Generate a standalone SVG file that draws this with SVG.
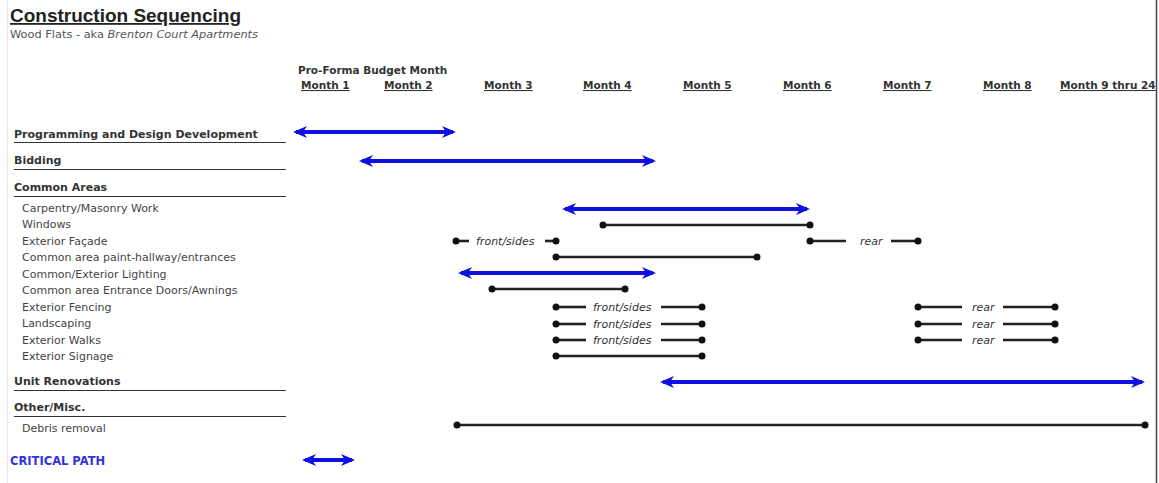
<svg xmlns="http://www.w3.org/2000/svg" width="1159" height="483" viewBox="0 0 1159 483">
<defs>
<marker id="ah" viewBox="0 0 14 12" refX="11" refY="6" markerWidth="14" markerHeight="12" markerUnits="userSpaceOnUse" orient="auto-start-reverse">
<path d="M0,0 L14,6 L0,12 L4,6 z" fill="#1010e0"/>
</marker>
<marker id="dot" viewBox="0 0 8 8" refX="4" refY="4" markerWidth="8" markerHeight="8" markerUnits="userSpaceOnUse">
<circle cx="4" cy="4" r="3.5" fill="#111"/>
</marker>
<style>
.t{font-family:"DejaVu Sans","Liberation Sans",sans-serif;fill:#333;}
.title{font-family:"Liberation Sans",Arial,sans-serif;font-size:18px;font-weight:bold;fill:#222;text-decoration:underline;}
.sub{font-size:10px;fill:#555;}
.hd{font-size:10.5px;font-weight:bold;fill:#333;}
.mo{font-size:10.5px;fill:#333;text-decoration:underline;font-weight:bold;}
.sec{font-size:11px;font-weight:bold;fill:#333;}
.item{font-size:11px;fill:#444;}
.lbl{font-size:11px;font-style:italic;fill:#333;}
.cp{font-size:11.5px;font-weight:bold;fill:#3333dd;}
.rule{stroke:#333;stroke-width:1.2;}
.blue{stroke:#1010e0;stroke-width:4;fill:none;marker-start:url(#ah);marker-end:url(#ah);}
.bk{stroke:#222;stroke-width:2.6;fill:none;}
.d2{marker-start:url(#dot);marker-end:url(#dot);}
.ds{marker-start:url(#dot);}
.de{marker-end:url(#dot);}
</style>
</defs>
<rect width="1159" height="483" fill="#fff"/>
<line x1="1156.5" y1="0" x2="1156.5" y2="483" stroke="#444" stroke-width="1.5"/>
<line x1="7.5" y1="0" x2="7.5" y2="483" stroke="#e6e6e6" stroke-width="1"/>

<g id="header">
<text class="title" x="10" y="22" textLength="231" lengthAdjust="spacingAndGlyphs">Construction Sequencing</text>
<text class="t sub" x="10" y="38" textLength="248" lengthAdjust="spacingAndGlyphs">Wood Flats - aka <tspan font-style="italic">Brenton Court Apartments</tspan></text>
<text class="t hd" x="298" y="74">Pro-Forma Budget Month</text>
<text class="t mo" x="301" y="89">Month 1</text>
<text class="t mo" x="384" y="89">Month 2</text>
<text class="t mo" x="484" y="89">Month 3</text>
<text class="t mo" x="583" y="89">Month 4</text>
<text class="t mo" x="683" y="89">Month 5</text>
<text class="t mo" x="783" y="89">Month 6</text>
<text class="t mo" x="883" y="89">Month 7</text>
<text class="t mo" x="983" y="89">Month 8</text>
<text class="t mo" x="1060" y="89">Month 9 thru 24</text>
</g>

<g id="labels">
<text class="t sec" x="14" y="138">Programming and Design Development</text>
<line class="rule" x1="14" y1="142.5" x2="286" y2="142.5"/>
<text class="t sec" x="14" y="164">Bidding</text>
<line class="rule" x1="14" y1="169.5" x2="286" y2="169.5"/>
<text class="t sec" x="14" y="191">Common Areas</text>
<line class="rule" x1="14" y1="196.5" x2="286" y2="196.5"/>
<text class="t item" x="22" y="212">Carpentry/Masonry Work</text>
<text class="t item" x="22" y="228">Windows</text>
<text class="t item" x="22" y="245">Exterior Façade</text>
<text class="t item" x="22" y="261">Common area paint-hallway/entrances</text>
<text class="t item" x="22" y="278">Common/Exterior Lighting</text>
<text class="t item" x="22" y="294">Common area Entrance Doors/Awnings</text>
<text class="t item" x="22" y="311">Exterior Fencing</text>
<text class="t item" x="22" y="327">Landscaping</text>
<text class="t item" x="22" y="344">Exterior Walks</text>
<text class="t item" x="22" y="360">Exterior Signage</text>
<text class="t sec" x="14" y="385">Unit Renovations</text>
<line class="rule" x1="14" y1="390.5" x2="286" y2="390.5"/>
<text class="t sec" x="14" y="411">Other/Misc.</text>
<line class="rule" x1="14" y1="416.5" x2="286" y2="416.5"/>
<text class="t item" x="22" y="432">Debris removal</text>
<text class="t cp" x="10" y="465">CRITICAL PATH</text>
</g>

<g id="connectors">
<line class="blue" x1="296" y1="132" x2="453" y2="132"/>
<line class="blue" x1="362" y1="161" x2="653" y2="161"/>
<line class="blue" x1="565" y1="209" x2="807" y2="209"/>
<line class="bk d2" x1="603" y1="225" x2="810" y2="225"/>
<line class="bk ds" x1="456" y1="241" x2="469" y2="241"/>
<line class="bk de" x1="545" y1="241" x2="556" y2="241"/>
<line class="bk ds" x1="810" y1="241" x2="846" y2="241"/>
<line class="bk de" x1="891" y1="241" x2="918" y2="241"/>
<line class="bk d2" x1="556" y1="257" x2="757" y2="257"/>
<line class="blue" x1="461" y1="273" x2="653" y2="273"/>
<line class="bk d2" x1="492" y1="289" x2="625" y2="289"/>
<line class="bk ds" x1="556" y1="307" x2="586" y2="307"/>
<line class="bk de" x1="661" y1="307" x2="702" y2="307"/>
<line class="bk ds" x1="918" y1="307" x2="962" y2="307"/>
<line class="bk de" x1="1003" y1="307" x2="1055" y2="307"/>
<line class="bk ds" x1="556" y1="324" x2="586" y2="324"/>
<line class="bk de" x1="661" y1="324" x2="702" y2="324"/>
<line class="bk ds" x1="918" y1="324" x2="962" y2="324"/>
<line class="bk de" x1="1003" y1="324" x2="1055" y2="324"/>
<line class="bk ds" x1="556" y1="340" x2="586" y2="340"/>
<line class="bk de" x1="661" y1="340" x2="702" y2="340"/>
<line class="bk ds" x1="918" y1="340" x2="962" y2="340"/>
<line class="bk de" x1="1003" y1="340" x2="1055" y2="340"/>
<line class="bk d2" x1="556" y1="356" x2="702" y2="356"/>
<line class="blue" x1="663" y1="382" x2="1142" y2="382"/>
<line class="bk d2" x1="457" y1="425" x2="1145" y2="425"/>
<line class="blue" x1="305" y1="460" x2="352" y2="460"/>
</g>

<g id="bar-labels">
<text class="t lbl" x="476" y="245">front/sides</text>
<text class="t lbl" x="860" y="245">rear</text>
<text class="t lbl" x="593" y="311">front/sides</text>
<text class="t lbl" x="972" y="311">rear</text>
<text class="t lbl" x="593" y="328">front/sides</text>
<text class="t lbl" x="972" y="328">rear</text>
<text class="t lbl" x="593" y="344">front/sides</text>
<text class="t lbl" x="972" y="344">rear</text>
</g>
</svg>
